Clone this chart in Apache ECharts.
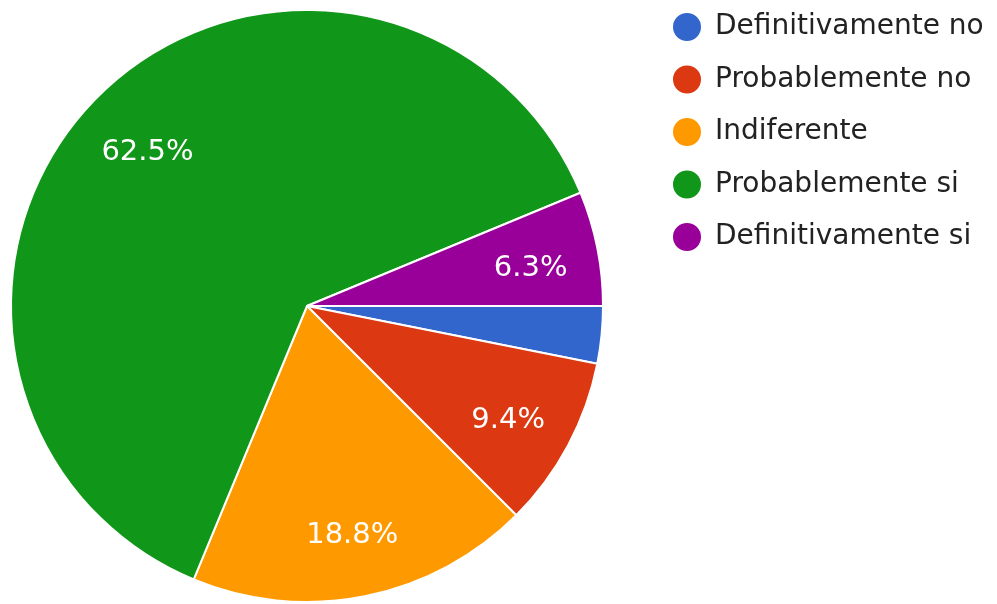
<!DOCTYPE html>
<html>
<head>
<meta charset="utf-8">
<script src="https://cdn.jsdelivr.net/npm/echarts@6/dist/echarts.min.js"></script>
<style>
  html, body { margin: 0; padding: 0; background: #fff; }
  #chart { width: 997px; height: 604px; }
</style>
</head>
<body>
<div id="chart"></div>
<script>
// Survey answers (response counts per option)
const categories = ['Definitivamente no', 'Probablemente no', 'Indiferente', 'Probablemente si', 'Definitivamente si'];
const counts = [1, 3, 6, 20, 2];
const colors = ['#3366cc', '#dc3912', '#ff9900', '#109618', '#990099'];

// Slices below this share get no inline percentage label
const minLabelPercent = 5;

const total = counts.reduce((a, b) => a + b, 0);
const pieData = categories.map((name, i) => ({
  name: name,
  value: counts[i],
  itemStyle: { color: colors[i] }
}));

const center = [307, 306];
const outer = 296;
const font = 'DejaVu Sans';

const chart = echarts.init(document.getElementById('chart'), null, { renderer: 'canvas' });
chart.setOption({
  animation: false,
  backgroundColor: '#ffffff',
  legend: {
    orient: 'vertical',
    left: 671,
    top: 11,
    padding: 0,
    icon: 'circle',
    itemWidth: 30,
    itemHeight: 30,
    itemGap: 20.5,
    selectedMode: false,
    textStyle: {
      fontFamily: font,
      fontSize: 28,
      lineHeight: 30,
      color: '#222222',
      padding: [0, 0, 0, 8]
    },
    data: categories
  },
  series: [
    {
      type: 'pie',
      center: center,
      radius: [0, outer],
      startAngle: 0,
      clockwise: true,
      avoidLabelOverlap: false,
      silent: true,
      itemStyle: { borderColor: '#ffffff', borderWidth: 2 },
      label: { show: false },
      labelLine: { show: false },
      data: pieData
    },
    {
      // Ring used only to place percentage labels further out in each slice
      type: 'pie',
      center: center,
      radius: [152, outer],
      startAngle: 0,
      clockwise: true,
      avoidLabelOverlap: false,
      silent: true,
      itemStyle: { color: 'rgba(0,0,0,0)', borderWidth: 0 },
      label: {
        show: true,
        position: 'inside',
        offset: [1, 7],
        fontFamily: font,
        fontSize: 29,
        color: '#ffffff',
        formatter: function (p) {
          const pct = p.value / total * 100;
          return pct < minLabelPercent ? '' : pct.toFixed(1) + '%';
        }
      },
      labelLine: { show: false },
      data: categories.map((name, i) => ({ name: name, value: counts[i] }))
    }
  ]
});
</script>
</body>
</html>
